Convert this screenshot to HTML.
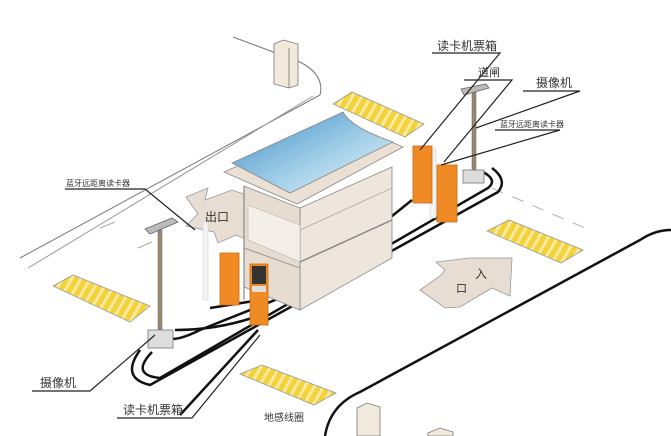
<!DOCTYPE html>
<html><head><meta charset="utf-8"><style>html,body{margin:0;padding:0;background:#fff}svg{display:block}text{font-family:"Liberation Sans","Noto Sans CJK SC",sans-serif;fill:#333}</style></head><body>
<svg width="671" height="436" viewBox="0 0 671 436" xmlns="http://www.w3.org/2000/svg">
<defs>
<linearGradient id="roof" x1="0" y1="0" x2="1" y2="1"><stop offset="0" stop-color="#3a8cc4"/><stop offset="0.6" stop-color="#a9d3ea"/><stop offset="1" stop-color="#e8f4fa"/></linearGradient>
<pattern id="stripe" width="8" height="8" patternUnits="userSpaceOnUse" patternTransform="rotate(-60)"><rect width="8" height="8" fill="#f3d23a"/><rect width="8" height="3" fill="#fbeaa0"/></pattern>
</defs>
<rect width="671" height="436" fill="#fff"/>
<path d="M233,37 L300,62 Q325,75 320,95 L20,258" fill="none" stroke="#777" stroke-width="1"/>
<path d="M313,96 L28,268" fill="none" stroke="#999" stroke-width="1"/>
<path d="M100,228 L115,222 M138,248 L152,242" stroke="#aaa" stroke-width="1"/>
<polygon points="274,44 283,40 298,44 298,85 289,88 274,84" fill="#f1e9dc" stroke="#777" stroke-width="0.8"/>
<line x1="289" y1="48" x2="289" y2="88" stroke="#777" stroke-width="0.8"/>
<path d="M492,188 L585,228" stroke="#bbb" stroke-width="1.2" stroke-dasharray="12,10"/>
<path d="M325,436 Q330,405 360,392 L640,240 Q655,230 671,230" fill="none" stroke="#111" stroke-width="2.5"/>
<polygon points="333,104 352,92 424,124 405,137" fill="url(#stripe)" stroke="#999" stroke-width="0.8"/>
<polygon points="53,286 73,275 150,306 130,322" fill="url(#stripe)" stroke="#999" stroke-width="0.8"/>
<polygon points="240,374 262,365 336,393 314,405" fill="url(#stripe)" stroke="#999" stroke-width="0.8"/>
<polygon points="487,231 509,220 583,250 561,263" fill="url(#stripe)" stroke="#999" stroke-width="0.8"/>
<polygon points="186,197 208,188 205,200 232,190 262,200 258,212 260,245 236,235 218,243 214,232 186,226 198,214" fill="#e8ddd2" stroke="#999" stroke-width="0.8"/>
<text x="205" y="221" font-size="12">出口</text>
<polygon points="420,290 440,276 445,270 436,262 470,258 512,258 510,296 492,288 460,307 445,308" fill="#e8ddd2" stroke="#999" stroke-width="0.8"/>
<text x="456" y="292" font-size="11">口</text><text x="475" y="278" font-size="12">入</text>
<g fill="none" stroke="#111" stroke-width="2.5">
<path d="M152,352 Q130,375 160,378 L488,188 Q498,180 483,172"/>
<path d="M140,350 Q120,378 150,385 L498,192 Q508,180 492,168"/>
<path d="M162,335 Q170,345 200,330 L300,290 L412,200"/>
<path d="M210,308 L260,300"/>
<path d="M258,330 L180,415"/>
<path d="M175,330 Q215,330 252,318"/>
</g>
<polygon points="300,208 392,167 392,258 300,310" fill="#eee6dc" stroke="#888" stroke-width="0.8"/>
<polygon points="244,186 300,208 300,310 244,287" fill="#e6dcd0" stroke="#888" stroke-width="0.8"/>
<polygon points="248,205 300,225 300,262 248,240" fill="#f4eee8" stroke="#aaa" stroke-width="0.5"/>
<line x1="300" y1="262" x2="392" y2="220" stroke="#888" stroke-width="1.5"/>
<line x1="244" y1="248" x2="300" y2="268" stroke="#999" stroke-width="1"/>
<line x1="300" y1="230" x2="392" y2="188" stroke="#aaa" stroke-width="0.8"/>
<line x1="244" y1="186" x2="244" y2="300" stroke="#888" stroke-width="1.2"/>
<polygon points="224,172 340,120 403,147 297,204" fill="#eae0d4" stroke="#888" stroke-width="0.8"/>
<path d="M232,163 L343,112 Q352,128 393,142 L290,193 Z" fill="url(#roof)" stroke="#888" stroke-width="0.8"/>
<rect x="203" y="222" width="5" height="78" fill="#f4f4f4" stroke="#ccc" stroke-width="0.5"/>
<rect x="430" y="148" width="6" height="70" fill="#f4f4f4" stroke="#ccc" stroke-width="0.5"/>
<rect x="220" y="253" width="19" height="52" fill="#f08a24" stroke="#c76a10" stroke-width="0.8"/>
<rect x="250" y="264" width="18" height="61" fill="#f08a24" stroke="#c76a10" stroke-width="0.8"/>
<rect x="252" y="266" width="14" height="18" fill="#333"/>
<rect x="252" y="286" width="14" height="6" fill="#ddd"/>
<rect x="413" y="146" width="19" height="57" fill="#f08a24" stroke="#c76a10" stroke-width="0.8"/>
<rect x="437" y="165" width="20" height="57" fill="#f08a24" stroke="#c76a10" stroke-width="0.8"/>
<rect x="158" y="230" width="4" height="100" fill="#9a8770" stroke="#666" stroke-width="0.5"/>
<polygon points="145,229 172,218 178,222 150,234" fill="#bbb" stroke="#666" stroke-width="0.8"/>
<rect x="148" y="330" width="25" height="18" fill="#ddd" stroke="#777" stroke-width="0.8"/>
<rect x="472" y="92" width="4" height="80" fill="#9a8770" stroke="#666" stroke-width="0.5"/>
<polygon points="461,89 486,84 489,88 464,95" fill="#bbb" stroke="#666" stroke-width="0.8"/>
<rect x="463" y="170" width="21" height="13" fill="#ddd" stroke="#777" stroke-width="0.8"/>
<polygon points="357,408 367,403 380,407 380,436 357,436" fill="#f1e9dc" stroke="#777" stroke-width="0.8"/>
<polygon points="428,433 440,428 453,432 453,436 428,436" fill="#f1e9dc" stroke="#777" stroke-width="0.8"/>
<g fill="none" stroke="#222" stroke-width="1.2">
<path d="M32,391 L90,391 L155,335"/>
<path d="M117,418 L192,418 L260,335"/>
<path d="M65,189 L145,189 L195,230"/>
<path d="M432,53 L500,53 L420,150"/>
<path d="M464,80 L512,80 L444,162"/>
<path d="M523,91 L580,91 L476,128"/>
<path d="M495,130 L560,130 L441,165"/>
</g>
<text x="437" y="50" font-size="12">读卡机票箱</text>
<text x="478" y="76" font-size="11">道闸</text>
<text x="536" y="87" font-size="12">摄像机</text>
<text x="500" y="127" font-size="8">蓝牙远距离读卡器</text>
<text x="66" y="186" font-size="8">蓝牙远距离读卡器</text>
<text x="40" y="387" font-size="12">摄像机</text>
<text x="123" y="414" font-size="12">读卡机票箱</text>
<text x="264" y="421" font-size="10">地感线圈</text>
</svg>
</body></html>
